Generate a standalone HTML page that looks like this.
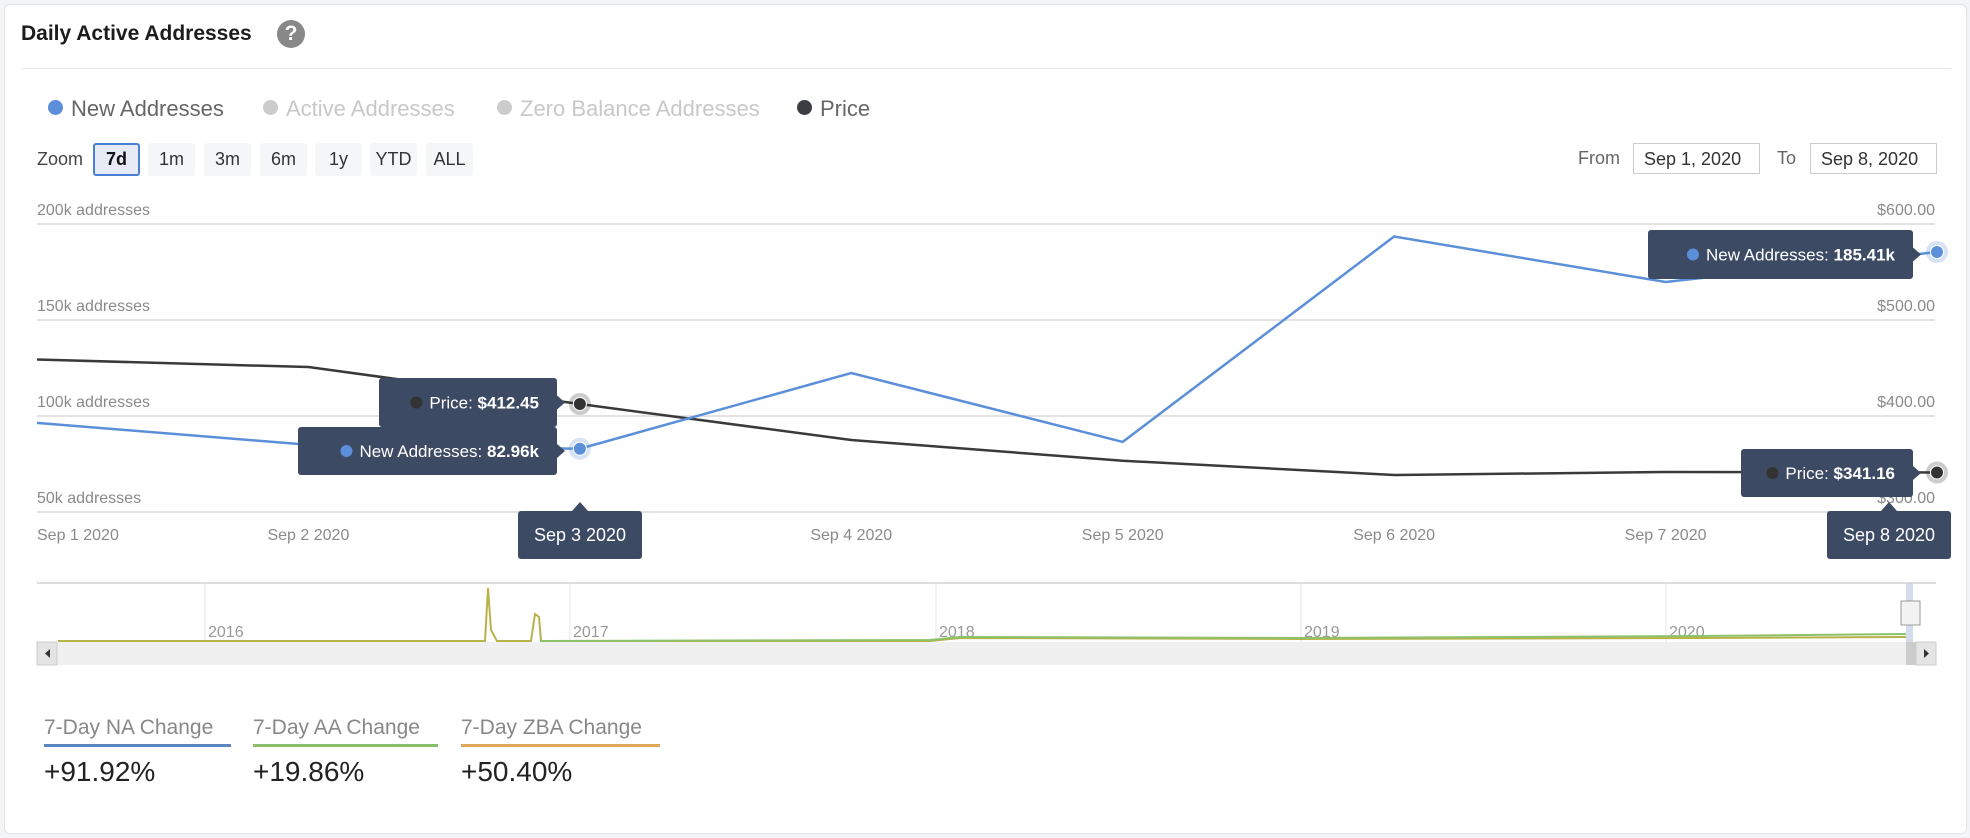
<!DOCTYPE html>
<html><head><meta charset="utf-8">
<style>
body{margin:0;width:1970px;height:838px;background:#f3f4f6;font-family:"Liberation Sans",sans-serif;overflow:hidden;position:relative}
.card{position:absolute;left:4px;top:4px;width:1961px;height:828px;background:#fff;border:1px solid #e2e4e8;border-radius:6px}
.abs{position:absolute}
.btn{position:absolute;top:143px;height:33px;width:47px;background:#f5f6f7;border-radius:3px;font-size:18px;color:#333;text-align:center;line-height:33px}
.inp{position:absolute;top:143px;height:31px;border:1px solid #ccc;font-size:18px;color:#333;line-height:31px;padding-left:10px;box-sizing:border-box}
.leg{position:absolute;top:96px;font-size:22px;color:#666}
.dot{display:inline-block;width:15px;height:15px;border-radius:50%;margin-right:8px;vertical-align:1px}
.stat{position:absolute;top:716px;font-size:21px;color:#888}
.val{position:absolute;top:756px;font-size:28px;color:#222}
</style></head><body>
<div class="card"></div>
<div class="abs" style="left:21px;top:22px;font-size:21px;font-weight:bold;color:#1c1c1c">Daily Active Addresses</div>
<div class="abs" style="left:277px;top:20px;width:28px;height:28px;border-radius:50%;background:#888;color:#fff;font-weight:bold;font-size:21px;text-align:center;line-height:28px">?</div>
<div class="abs" style="left:21px;top:68px;width:1930px;height:1px;background:#e6e6e6"></div>

<div class="leg" style="left:48px"><span class="dot" style="background:#5b8fd9"></span>New Addresses</div>
<div class="leg" style="left:263px;color:#c8c8c8"><span class="dot" style="background:#ccc"></span>Active Addresses</div>
<div class="leg" style="left:497px;color:#c8c8c8"><span class="dot" style="background:#ccc"></span>Zero Balance Addresses</div>
<div class="leg" style="left:797px"><span class="dot" style="background:#3a3d42"></span>Price</div>

<div class="abs" style="left:37px;top:149px;font-size:18px;color:#444">Zoom</div>
<div class="btn" style="left:93px;background:#e6ebf5;border:2px solid #4a7fd6;box-sizing:border-box;line-height:29px;font-weight:bold;color:#111">7d</div>
<div class="btn" style="left:148px">1m</div>
<div class="btn" style="left:204px">3m</div>
<div class="btn" style="left:260px">6m</div>
<div class="btn" style="left:315px">1y</div>
<div class="btn" style="left:370px">YTD</div>
<div class="btn" style="left:426px">ALL</div>

<div class="abs" style="left:1578px;top:148px;font-size:18px;color:#666">From</div>
<div class="inp" style="left:1633px;width:127px">Sep 1, 2020</div>
<div class="abs" style="left:1777px;top:148px;font-size:18px;color:#666">To</div>
<div class="inp" style="left:1810px;width:127px">Sep 8, 2020</div>

<svg class="abs" style="left:0;top:0" width="1970" height="838" id="chart" font-family="Liberation Sans, sans-serif"></svg>

<div class="stat" style="left:44px">7-Day NA Change</div>
<div class="abs" style="left:44px;top:744px;width:187px;height:3px;background:#5b86c0"></div>
<div class="val" style="left:44px">+91.92%</div>
<div class="stat" style="left:253px">7-Day AA Change</div>
<div class="abs" style="left:253px;top:744px;width:185px;height:3px;background:#8bbd6a"></div>
<div class="val" style="left:253px">+19.86%</div>
<div class="stat" style="left:461px">7-Day ZBA Change</div>
<div class="abs" style="left:461px;top:744px;width:199px;height:3px;background:#e0a85a"></div>
<div class="val" style="left:461px">+50.40%</div>

<script>
const categories=["Sep 1 2020","Sep 2 2020","Sep 3 2020","Sep 4 2020","Sep 5 2020","Sep 6 2020","Sep 7 2020","Sep 8 2020"];
const newAddresses=[96.4,85.0,82.96,122.4,86.5,193.5,169.8,185.41];
const price=[458.8,451.0,412.45,375.0,353.4,338.5,341.7,341.16];
const leftTicks=[50,100,150,200];
const rightTicks=[300,400,500,600];
const navYears=["2016","2017","2018","2019","2020"];

const NS="http://www.w3.org/2000/svg";
const svg=document.getElementById('chart');
const X0=37,X1=1937,YT=224,YB=512;
const xs=i=>X0+(X1-X0)*i/(categories.length-1);
const yL=v=>YB-(v-50)/150*(YB-YT);
const yR=v=>YB-(v-300)/300*(YB-YT);
function mk(tag,attrs,parent){const e=document.createElementNS(NS,tag);for(const k in attrs)e.setAttribute(k,attrs[k]);(parent||svg).appendChild(e);return e;}

leftTicks.forEach((t,i)=>{
  const g=mk('line',{x1:X0,x2:X1-2,y1:yL(t),y2:yL(t),stroke:'#e3e3e3','stroke-width':2});
  
  
  const l=mk('text',{x:X0,y:yL(t)-9,'font-size':16,fill:'#8a8a8a'});l.textContent=t+'k addresses';
  
  
});
rightTicks.forEach(t=>{
  const l=mk('text',{x:X1-2,y:yR(t)-9,'font-size':16,fill:'#8a8a8a','text-anchor':'end'});l.textContent='$'+t.toFixed(2);
  
  
});
categories.forEach((c,i)=>{
  if(i==2||i==7)return;
  const l=mk('text',{x:i==0?X0:xs(i),y:540,'font-size':16,fill:'#8a8a8a','text-anchor':i==0?'start':'middle'});l.textContent=c;
  
  
});
const pp=mk('polyline',{points:price.map((v,i)=>xs(i)+','+yR(v)).join(' '),fill:'none',stroke:'#3a3a3a','stroke-width':2.5});


const np=mk('polyline',{points:newAddresses.map((v,i)=>xs(i)+','+yL(v)).join(' '),fill:'none',stroke:'#5b8fd9','stroke-width':2.5});



function tip(x,y,w,h,dotColor,label,val,name){
  const g=mk('g',{});
  
  
  mk('rect',{x:x,y:y,width:w,height:h,rx:3,fill:'#3d4a64'},g);
  mk('path',{d:`M${x+w},${y+h/2-7} L${x+w+8},${y+h/2} L${x+w},${y+h/2+7}Z`,fill:'#3d4a64'},g);
  const t=mk('text',{x:x+w-18,y:y+h/2+6,'font-size':17,fill:'#fff','text-anchor':'end'},g);
  t.innerHTML=label+' <tspan font-weight="bold">'+val+'</tspan>';
  let tw=0;try{tw=t.getComputedTextLength();}catch(e){}
  const dx=tw?(x+w-18-tw-13):(x+21);
  mk('circle',{cx:dx,cy:y+h/2,r:6,fill:dotColor},g);
}
function marker(i,y,color,name){
  const g=mk('g',{});
  
  
  mk('circle',{cx:xs(i),cy:y,r:11,fill:color,opacity:0.25},g);
  mk('circle',{cx:xs(i),cy:y,r:6.5,fill:color,stroke:'#fff','stroke-width':1},g);
}
function dateTip(cx,text,name,w){
  const g=mk('g',{});
  
  
  mk('rect',{x:cx-w/2,y:511,width:w,height:48,rx:3,fill:'#3d4a64'},g);
  mk('path',{d:`M${cx-8},511 L${cx},502 L${cx+8},511Z`,fill:'#3d4a64'},g);
  const t=mk('text',{x:cx,y:541,'font-size':18,fill:'#fff','text-anchor':'middle'},g);t.textContent=text;
}
tip(379,378,178,49,'#333','Price:','$'+price[2].toFixed(2),'price-tooltip-sep3');
tip(298,427,259,48,'#5b8fd9','New Addresses:',newAddresses[2].toFixed(2)+'k','na-tooltip-sep3');
tip(1648,230,265,49,'#5b8fd9','New Addresses:',newAddresses[7].toFixed(2)+'k','na-tooltip-sep8');
tip(1741,449,172,48,'#333','Price:','$'+price[7].toFixed(2),'price-tooltip-sep8');
marker(2,yR(price[2]),'#333','price-marker-sep3');
marker(2,yL(newAddresses[2]),'#5b8fd9','na-marker-sep3');
marker(7,yL(newAddresses[7]),'#5b8fd9','na-marker-sep8');
marker(7,yR(price[7]),'#333','price-marker-sep8');
dateTip(580,'Sep 3 2020','date-tooltip-sep3',124);
dateTip(1889,'Sep 8 2020','date-tooltip-sep8',124);

// navigator
const nav=mk('g',{});


mk('line',{x1:X0,x2:1936,y1:583,y2:583,stroke:'#ddd','stroke-width':2},nav);
const yearX=[205,570,936,1301,1666];
navYears.forEach((y,i)=>{
  mk('line',{x1:yearX[i],x2:yearX[i],y1:583,y2:642,stroke:'#e6e6e6','stroke-width':1},nav);
  const t=mk('text',{x:yearX[i]+3,y:637,'font-size':16,fill:'#999'},nav);t.textContent=y;
});
mk('path',{d:'M58,641 L485,641 L488,588 L491,630 L497,641 L531,641 L535,614 L539,617 L541,641 L930,641 L960,638 L1300,639 L1700,638 L1906,637',fill:'none',stroke:'#b8b24a','stroke-width':2},nav);
mk('path',{d:'M540,641 L930,640 L960,637 L1300,638 L1700,636 L1906,634',fill:'none',stroke:'#8dc26a','stroke-width':2},nav);
mk('rect',{x:1906,y:583,width:7,height:59,fill:'#c9d3e6',opacity:0.8},nav);
mk('rect',{x:1901,y:601,width:19,height:24,fill:'#f2f2f2',stroke:'#999'},nav);
mk('rect',{x:37,y:642,width:1899,height:23,fill:'#f0f0f0'},nav);
mk('rect',{x:37,y:642,width:20,height:23,fill:'#e4e4e4',stroke:'#ccc'},nav);
mk('path',{d:'M50,649 L45,653.5 L50,658Z',fill:'#333'},nav);
mk('rect',{x:1906,y:642,width:10,height:23,fill:'#ccc'},nav);
mk('rect',{x:1916,y:642,width:20,height:23,fill:'#e4e4e4',stroke:'#ccc'},nav);
mk('path',{d:'M1924,649 L1929,653.5 L1924,658Z',fill:'#333'},nav);
</script>
</body></html>
